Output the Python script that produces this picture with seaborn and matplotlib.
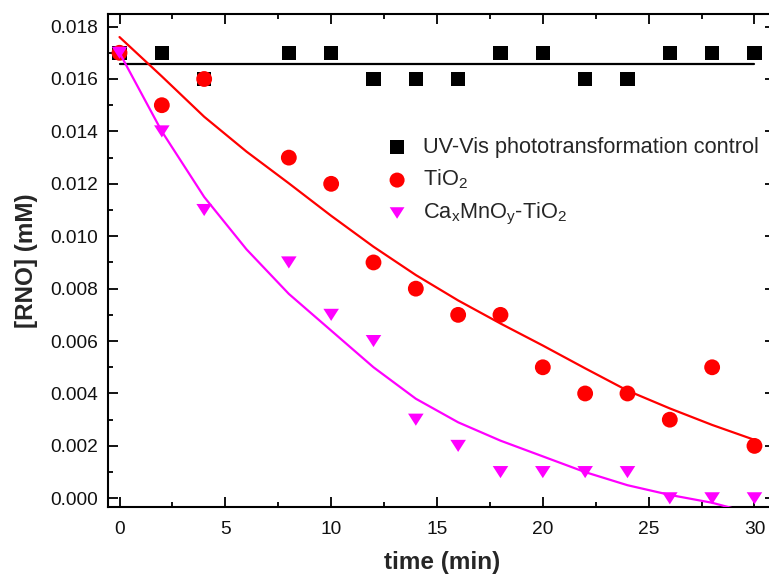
import matplotlib
matplotlib.use("Agg")
import matplotlib.pyplot as plt
from matplotlib.ticker import MultipleLocator, FormatStrFormatter
import seaborn as sns
import pandas as pd

# ---- data ----
time = [0, 2, 4, 8, 10, 12, 14, 16, 18, 20, 22, 24, 26, 28, 30]
control = [0.017, 0.017, 0.016, 0.017, 0.017, 0.016, 0.016, 0.016,
           0.017, 0.017, 0.016, 0.016, 0.017, 0.017, 0.017]
tio2 = [0.017, 0.015, 0.016, 0.013, 0.012, 0.009, 0.008, 0.007,
        0.007, 0.005, 0.004, 0.004, 0.003, 0.005, 0.002]
camno = [0.017, 0.014, 0.011, 0.009, 0.007, 0.006, 0.003, 0.002,
         0.001, 0.001, 0.001, 0.001, 0.0, 0.0, 0.0]

control_fit_t = [0, 30]
control_fit = [0.01658, 0.01658]
fit_t = [0, 2, 4, 6, 8, 10, 12, 14, 16, 18, 20, 22, 24, 26, 28, 30]
tio2_fit = [0.0176, 0.0161, 0.01456, 0.01323, 0.01202, 0.01078, 0.0096, 0.00852,
            0.00755, 0.00667, 0.00583, 0.00496, 0.00411, 0.00343, 0.0028, 0.00223]
camno_fit = [0.0170, 0.0140, 0.0115, 0.0095, 0.0078, 0.0064, 0.0050, 0.0038,
             0.0029, 0.0022, 0.0016, 0.0010, 0.0005, 0.00013, -0.00017, -0.0006]

labels = ["UV-Vis phototransformation control", "TiO$_2$", "Ca$_x$MnO$_y$-TiO$_2$"]
colors = ["#000000", "#ff0000", "#ff00ff"]

sns.set_theme(style="white")
plt.rcParams["font.family"] = ["Liberation Sans", "DejaVu Sans"]
plt.rcParams["mathtext.default"] = "regular"

W, H = 769, 578
fig = plt.figure(figsize=(W / 100, H / 100), dpi=100)
left, right, top, bottom = 108.5, 775, 14, 506.7
ax = fig.add_axes([left / W, 1 - bottom / H, (right - left) / W, (bottom - top) / H])

tri = [(-1, 0.78), (1, 0.78), (0, -0.78)]

df_c = pd.DataFrame({"t": time, "y": control})
df_t = pd.DataFrame({"t": time, "y": tio2})
df_m = pd.DataFrame({"t": time, "y": camno})

sns.scatterplot(data=df_c, x="t", y="y", ax=ax, marker="s", s=10.4**2,
                color=colors[0], edgecolor="none", label=labels[0], zorder=3)
sns.scatterplot(data=df_t, x="t", y="y", ax=ax, marker="o", s=11.4**2,
                color=colors[1], edgecolor="none", label=labels[1], zorder=3)
sns.scatterplot(data=df_m, x="t", y="y", ax=ax, marker=tri, s=11.2**2,
                color=colors[2], edgecolor="none", label=labels[2], zorder=3)

sns.lineplot(x=control_fit_t, y=control_fit, ax=ax, color=colors[0], lw=1.6,
             legend=False, zorder=4)
sns.lineplot(x=fit_t, y=tio2_fit, ax=ax, color=colors[1], lw=1.6,
             legend=False, zorder=4)
sns.lineplot(x=fit_t, y=camno_fit, ax=ax, color=colors[2], lw=1.6,
             legend=False, zorder=4)

ax.set_xlim(-0.52, 30.97)
ax.set_ylim(-0.00032, 0.01848)
ax.xaxis.set_major_locator(MultipleLocator(5))
ax.xaxis.set_minor_locator(MultipleLocator(2.5))
ax.yaxis.set_major_locator(MultipleLocator(0.002))
ax.yaxis.set_minor_locator(MultipleLocator(0.001))
ax.yaxis.set_major_formatter(FormatStrFormatter("%.3f"))

ax.tick_params(which="both", direction="in", top=True, right=True,
               bottom=True, left=True, width=1.3, color="black",
               labelsize=13.8, labelcolor="#111111")
ax.tick_params(axis="x", which="major", pad=10.5)
ax.tick_params(axis="y", which="major", pad=7.5)
ax.tick_params(which="major", length=7)
ax.tick_params(which="minor", length=3.6)
for sp in ax.spines.values():
    sp.set_linewidth(1.5)
    sp.set_color("black")
    sp.set_visible(True)

ax.set_xlabel("time (min)", fontsize=17.5, fontweight="bold", labelpad=9)
ax.set_ylabel("[RNO] (mM)", fontsize=17.5, fontweight="bold", labelpad=9)

leg = ax.legend(loc="upper left", bbox_to_anchor=(384 / W, 1 - 137 / H),
                bbox_transform=fig.transFigure, frameon=False, fontsize=15.7,
                handletextpad=0.6, labelspacing=0.45, borderaxespad=0,
                borderpad=0, markerscale=0.95, handlelength=1.2)

fig.savefig("out.png", dpi=100)
